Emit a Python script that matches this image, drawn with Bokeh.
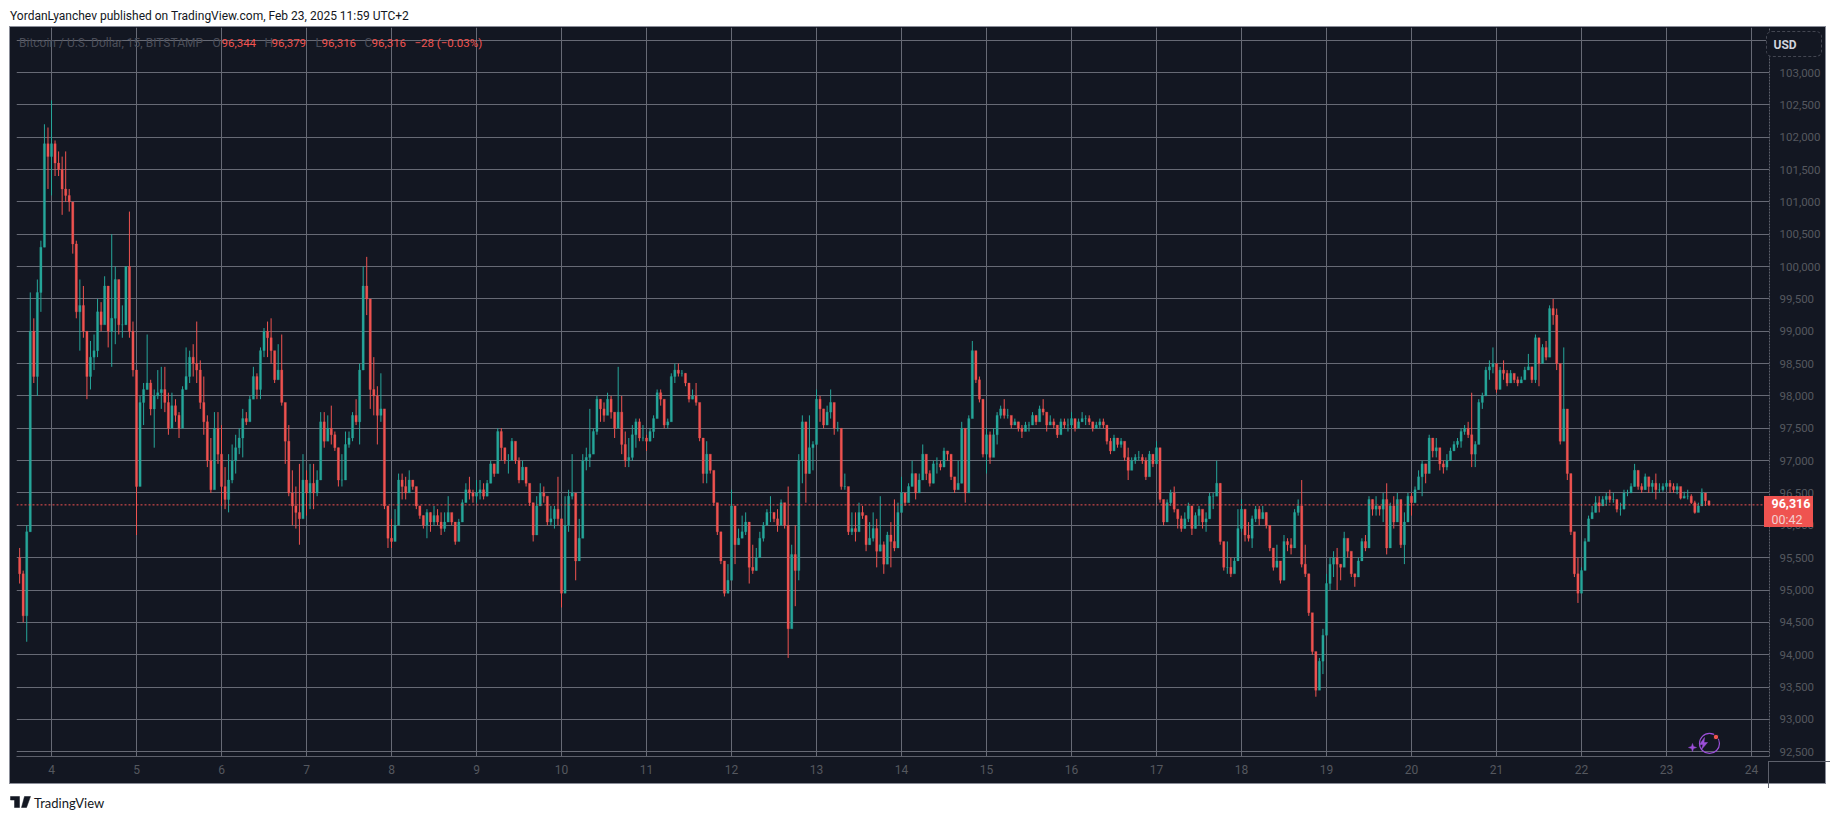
from bokeh.embed import file_html
from bokeh.resources import INLINE
from bokeh.plotting import figure, ColumnDataSource
from bokeh.layouts import column
from bokeh.models import BoxAnnotation, Label, Span, PolyAnnotation, FixedTicker, NumeralTickFormatter, Div

# BTC/USD candles, one per hour: (high, low, close)
feb03 = [(95650,95100,95250),(95300,94500,94600),(96000,94200,95900),(99600,95900,99000),(99200,98200,98300),(99800,98000,99600),(100400,99300,100300),(102200,100300,101900),(102150,101200,101700)]
feb04 = [(102570,101100,101900),(101950,101400,101600),(101780,101400,101500),(101700,100800,101200),(101780,101000,101100),(101200,100850,101000),(100700,100200,100350),(100400,99200,99300),(99800,98700,99400),(99700,98900,99000),(99000,97950,98300),(98850,98100,98600),(98950,98400,98700),(99500,98600,99300),(99450,99000,99100),(99850,99150,99700),(99600,98750,99000),(100500,98450,99200),(100000,98800,99800),(99700,98950,99100),(99400,98900,99100),(100000,99100,100000),(100850,98900,99000),(99150,98300,98400)]
feb05 = [(98300,95850,96600),(98000,96850,97900),(98200,97550,98100),(98950,98100,98200),(98250,97700,97800),(98100,97200,98000),(98400,97950,98050),(98450,97800,98100),(98450,97750,97900),(98050,97400,97500),(98050,97650,97850),(97950,97600,97700),(97750,97350,97500),(98150,97800,98100),(98750,98100,98300),(98700,98200,98600),(98800,98300,98500),(99150,98200,98400),(98550,97800,97900),(98300,97400,97600),(97700,96900,97000),(97350,96500,96550),(97750,96850,97500),(97750,96950,97100)]
feb06 = [(97550,96300,96600),(96900,96250,96400),(97100,96200,96700),(97250,96650,97000),(97400,96800,97200),(97500,97100,97350),(97800,97050,97650),(97750,97550,97600),(98000,97700,97950),(98450,98050,98300),(98350,97950,98100),(98750,97950,98700),(99050,98600,99000),(99150,98600,98900),(99200,98500,98700),(98650,98200,98250),(98800,98300,98400),(98950,97850,97900),(97600,96950,97300),(97550,96450,96500),(96850,96000,96300),(96600,95950,96200),(96950,95700,96100),(97100,96200,96700)]
feb07 = [(96850,96150,96500),(96950,96250,96650),(96950,96250,96500),(96850,96450,96700),(97750,96800,97600),(97750,97200,97300),(97700,97350,97500),(97850,97250,97400),(97450,97150,97200),(97200,96600,96700),(97100,96600,96700),(97450,96850,97250),(97450,97200,97350),(97750,97300,97700),(97950,97550,97600),(98500,97250,98400),(100000,98600,99700),(100150,99250,99500),(99250,97800,98100),(98600,97700,98000),(98150,97250,97700),(98350,97600,97800),(97550,96250,96300),(96300,95650,95800)]
feb08 = [(96100,95650,95750),(96250,95900,96000),(96800,96330,96700),(96800,96400,96600),(96750,96400,96500),(96850,96550,96700),(96700,96550,96600),(96550,96250,96300),(96300,96100,96150),(96150,95950,96000),(96250,95800,96200),(96200,95900,96050),(96300,96000,96150),(96250,96000,96050),(96200,95850,95950),(96200,95900,96050),(96450,96100,96200),(96150,96000,96050),(96000,95700,95750),(96100,95900,96050),(96400,96150,96350),(96650,96400,96550),(96750,96400,96500),(96550,96350,96450)]
feb09 = [(96700,96350,96500),(96700,96400,96550),(96650,96400,96450),(96700,96450,96650),(97000,96650,96950),(96950,96750,96800),(97500,96950,97450),(97500,97000,97200),(97150,96950,97000),(97100,96800,97000),(97350,97100,97300),(97200,96950,97000),(97050,96650,96700),(97000,96800,96900),(96800,96600,96650),(96550,96300,96350),(96250,95750,95850),(96450,96050,96300),(96650,96350,96500),(96600,96350,96450),(96250,96000,96050),(96300,96000,96100),(96300,95950,96250),(96750,96000,96100)]
feb10 = [(96000,94730,94950),(96450,95150,96000),(96550,95900,96450),(97100,96400,96500),(96400,95150,95450),(96100,95750,95800),(97100,96000,97000),(97200,96850,97050),(97800,96900,97100),(97500,97200,97450),(98000,97400,97950),(97950,97600,97800),(97900,97600,97700),(98050,97750,97950),(98000,97650,97750),(97700,97350,97500),(98450,97550,97750),(98000,97100,97250),(97450,96900,97000),(97350,96900,97050),(97550,97000,97400),(97650,97200,97600),(97650,97300,97350),(97550,97300,97350)]
feb11 = [(97400,97150,97300),(97500,97300,97450),(97700,97350,97650),(98100,97800,98050),(98100,97850,97950),(97850,97500,97550),(97650,97500,97600),(98350,97700,98300),(98500,98200,98400),(98500,98300,98350),(98400,98300,98350),(98350,98150,98200),(98150,97900,97950),(98100,97950,98000),(98200,97850,97900),(97850,97300,97350),(97350,96650,96800),(97300,96650,97100),(97050,96800,96850),(96650,96300,96350),(96300,95850,95900),(95700,95400,95450),(95400,94900,94950),(95400,94950,95150)]
feb12 = [(96550,95650,96300),(96100,95400,95700),(95950,95700,95800),(96150,95850,95900),(96200,95850,96050),(96000,95100,95350),(95700,95250,95300),(95650,95300,95500),(95900,95700,95800),(96050,95750,96000),(96250,96000,96200),(96450,96050,96200),(96200,96050,96100),(96250,95900,96000),(96400,96100,96350),(96250,95950,96000),(96600,93950,94400),(95700,94500,95550),(96000,94750,95300),(97100,95150,97000),(97700,96650,97600),(97050,96350,96800),(97700,96800,97200),(97300,96850,97250)]
feb13 = [(98100,97550,97950),(98000,97600,97800),(97800,97500,97550),(97850,97550,97750),(98100,97650,97900),(97850,97400,97500),(97600,97450,97500),(97350,96550,96600),(96800,96550,96600),(96500,95850,95900),(96200,95850,95950),(96200,95750,95900),(96350,96050,96200),(96300,96100,96150),(96150,95600,95700),(96050,95700,95800),(96200,95750,95950),(96100,95350,95600),(96450,95600,95700),(95750,95250,95400),(95900,95500,95850),(96050,95350,95750),(96400,95600,95650),(96350,96050,96200)]
feb14 = [(96750,96300,96500),(96500,96300,96350),(96650,96400,96600),(97000,96650,96800),(96800,96400,96500),(96800,96600,96700),(97250,96800,97100),(97000,96700,96800),(96850,96600,96650),(97000,96650,96950),(97050,96800,96950),(97000,96850,96900),(97200,97000,97150),(97150,97000,97100),(96900,96700,96750),(96700,96500,96550),(97000,96600,96650),(97600,96650,97500),(97400,96350,96500),(97700,96650,97650),(98850,98000,98700),(98550,98200,98250),(98300,97900,97950),(97900,97050,97100)]
feb15 = [(97500,96800,97400),(97450,96950,97050),(97500,97250,97400),(97750,97250,97700),(97850,97650,97800),(97950,97650,97700),(97800,97650,97700),(97650,97500,97550),(97650,97550,97600),(97600,97450,97500),(97550,97350,97450),(97600,97500,97550),(97600,97450,97550),(97750,97550,97700),(97700,97550,97600),(97850,97650,97800),(97950,97700,97750),(97700,97450,97550),(97700,97550,97600),(97650,97500,97550),(97500,97350,97400),(97650,97450,97600),(97650,97500,97550),(97650,97450,97550)]
feb16 = [(97750,97500,97650),(97600,97450,97500),(97650,97550,97600),(97750,97600,97650),(97700,97550,97650),(97700,97550,97600),(97600,97450,97500),(97600,97500,97550),(97650,97500,97600),(97650,97500,97550),(97450,97250,97300),(97350,97100,97150),(97400,97250,97350),(97300,97200,97250),(97350,97200,97300),(97200,97000,97050),(97200,96700,96850),(97050,96900,97000),(97100,96950,97050),(97150,97000,97050),(97100,96950,97000),(97050,96700,96750),(97150,96900,97100),(97050,96900,96950)]
feb17 = [(97300,96950,97200),(97100,96350,96400),(96350,96000,96050),(96400,96100,96350),(96550,96300,96500),(96600,96200,96250),(96150,95950,96100),(96150,95900,95950),(96200,95950,96100),(96350,96050,96300),(96100,95850,95950),(96200,95950,96150),(96300,96000,96250),(96200,95950,96050),(96200,95900,96100),(96500,96100,96450),(96500,96250,96450),(97000,96600,96650),(96650,95700,95750),(95700,95300,95350),(95750,95250,95350),(95500,95200,95250),(95500,95300,95450),(96250,95550,95950)]
feb18 = [(96400,95900,96250),(96000,95750,95850),(96050,95750,95800),(96150,95650,96100),(96300,96050,96250),(96300,96000,96100),(96300,96100,96200),(96200,95950,96000),(95900,95600,95650),(95600,95300,95350),(95700,95350,95450),(95400,95100,95150),(95850,95500,95750),(95800,95600,95700),(95800,95550,95650),(96250,95850,96200),(96400,96150,96300),(96700,95350,95400),(95700,95200,95250),(95250,94600,94650),(94500,94000,94050),(94000,93350,93450),(93950,93500,93900),(94400,93700,94300)]
feb19 = [(95250,94650,95100),(95500,95000,95400),(95600,95200,95500),(95650,95000,95400),(95400,95150,95350),(95900,95450,95800),(95750,95500,95600),(95550,95200,95250),(95250,95050,95200),(95500,95250,95450),(95800,95550,95750),(95850,95600,95650),(96450,95700,96400),(96400,96150,96250),(96450,96150,96300),(96300,96150,96250),(96500,96050,96400),(96650,95550,95650),(96350,95950,96300),(96450,95950,96050),(96500,96150,96400),(96150,95650,95700),(96200,95400,96050),(96500,96150,96450)]
feb20 = [(96500,96150,96350),(96600,96350,96550),(96850,96550,96750),(97000,96450,96950),(96950,96650,96800),(97400,96850,97350),(97300,97050,97150),(97350,97050,97200),(97050,96850,96950),(97000,96800,96900),(97100,96850,97000),(97200,97000,97150),(97300,97150,97250),(97350,97200,97300),(97500,97200,97450),(97550,97400,97500),(97600,97350,97400),(98050,96900,97100),(97300,96900,97250),(97950,97550,97900),(98050,97800,98000),(98450,98100,98400),(98550,98250,98450),(98750,98350,98500)]
feb21 = [(98350,98050,98100),(98450,98150,98400),(98550,98250,98350),(98400,98150,98200),(98400,98200,98350),(98300,98200,98250),(98300,98150,98200),(98300,98200,98250),(98450,98300,98400),(98650,98400,98450),(98350,98200,98250),(98950,98200,98900),(98600,98150,98500),(98800,98500,98750),(98850,98550,98600),(99400,98800,99350),(99500,99100,99250),(99350,98400,98500),(98350,97250,97300),(98750,97750,97800),(97750,96700,96800),(96600,95850,95900),(95850,95200,95250),(95500,94800,94950)]
feb22 = [(95350,94950,95300),(95800,95350,95750),(96150,95800,96100),(96300,96100,96200),(96450,96200,96350),(96450,96200,96300),(96450,96300,96400),(96500,96300,96450),(96550,96350,96400),(96500,96350,96400),(96400,96200,96250),(96350,96150,96250),(96550,96400,96500),(96550,96450,96500),(96650,96550,96600),(96950,96600,96850),(96750,96550,96600),(96650,96500,96550),(96800,96550,96750),(96650,96500,96600),(96700,96500,96650),(96800,96400,96550),(96650,96500,96550),(96650,96520,96600)]
feb23 = [(96700,96550,96650),(96700,96500,96600),(96650,96500,96550),(96650,96480,96600),(96550,96400,96420),(96520,96420,96450),(96550,96400,96450),(96480,96330,96350),(96380,96180,96200),(96350,96250,96300),(96570,96330,96500),(96480,96300,96380),(96380,96300,96316)]

first_open = 95500
last_price = 96316
day_ticks = list(range(4, 25))
price_ticks = list(range(92500, 104000, 500))
title_text = "YordanLyanchev published on TradingView.com, Feb 23, 2025 11:59 UTC+2"

days = [(3, feb03, 15), (4, feb04, 0), (5, feb05, 0), (6, feb06, 0), (7, feb07, 0), (8, feb08, 0), (9, feb09, 0),
        (10, feb10, 0), (11, feb11, 0), (12, feb12, 0), (13, feb13, 0), (14, feb14, 0), (15, feb15, 0), (16, feb16, 0),
        (17, feb17, 0), (18, feb18, 0), (19, feb19, 0), (20, feb20, 0), (21, feb21, 0), (22, feb22, 0), (23, feb23, 0)]

UP, DOWN = "#26a69a", "#ef5350"
BG = "#131722"
xs, highs, lows, opens, closes, colors = [], [], [], [], [], []
prev = first_open
for d, rows, start in days:
    for i, (h, l, c) in enumerate(rows):
        xs.append(d + (start + i) / 24)
        highs.append(h); lows.append(l); opens.append(prev); closes.append(c)
        colors.append(UP if c >= prev else DOWN)
        prev = c
src = ColumnDataSource(dict(x=xs, h=highs, l=lows, o=opens, c=closes, color=colors))


def at(x, y, **extra):
    s = {"position": "absolute", "left": f"{x}px", "top": f"{y}px"}
    s.update(extra)
    return s


def label(f, text, x, y, color, size="12px", font="Roboto", style="normal", align="left"):
    f.add_layout(Label(x=x, y=y, x_units="canvas", y_units="canvas", text=text, text_color=color,
                       text_font_size=size, text_font=font, text_font_style=style,
                       text_align=align, text_baseline="middle"))


def poly(f, pts, color):
    f.add_layout(PolyAnnotation(xs=[q[0] for q in pts], ys=[q[1] for q in pts],
                                xs_units="canvas", ys_units="canvas", fill_color=color, fill_alpha=1,
                                line_color=color, line_alpha=1, line_width=0.5))


def chip(x, y, w, h, tick, pad, text, color, style, size, **css):
    """A small block in the price-axis column: its single text is an axis label, which is never clipped."""
    f = figure(width=w, height=h, output_backend="svg", toolbar_location=None,
               x_range=(0, 1), y_range=(0, h), x_axis_type=None, y_axis_location="right",
               frame_width=1, frame_height=h, min_border_left=pad, min_border_right=w - pad - 1,
               min_border_top=0, min_border_bottom=0,
               background_fill_color=None, border_fill_color=None, outline_line_color=None,
               styles=at(x, y, **css))
    f.grid.visible = False
    a = f.yaxis[0]
    a.ticker = FixedTicker(ticks=[tick])
    a.major_label_overrides = {tick: text}
    a.axis_line_color = None
    a.major_tick_line_color = None
    a.minor_tick_line_color = None
    a.major_tick_out = 0
    a.major_tick_in = 0
    a.major_label_standoff = 0
    a.major_label_text_color = color
    a.major_label_text_font = "Roboto"
    a.major_label_text_font_style = style
    a.major_label_text_font_size = size
    return f


# main chart: frame 10..1763 x 27..756, axes in the rest of the pane
p = figure(width=1815, height=756, output_backend="svg", toolbar_location=None,
           x_range=(3.588, 24.212), y_range=(92426, 103696),
           x_axis_location="below", y_axis_location="right",
           frame_width=1753, frame_height=729,
           min_border_left=0, min_border_top=0, min_border_right=62, min_border_bottom=27,
           border_fill_color=None, background_fill_color=None, outline_line_color=None,
           styles=at(10, 27, background=BG, outline="1px solid #8b8e99"))

GRID = "#676a75"
p.xgrid.ticker = FixedTicker(ticks=day_ticks)
p.ygrid.ticker = FixedTicker(ticks=price_ticks)
p.xgrid.grid_line_color = GRID
p.ygrid.grid_line_color = GRID
p.xgrid.grid_line_width = 1
p.ygrid.grid_line_width = 1

xa = p.xaxis[0]
xa.ticker = FixedTicker(ticks=day_ticks)
xa.axis_line_color = "#5d606b"
xa.major_tick_line_color = None
xa.minor_tick_line_color = None
xa.major_tick_out = 0
xa.major_tick_in = 0
xa.major_label_text_color = "#55585f"
xa.major_label_text_font = "Roboto"
xa.major_label_text_font_size = "12px"
xa.major_label_standoff = 8
xa.major_label_overrides = {t: str(t) for t in day_ticks}

ya = p.yaxis[0]
ya.ticker = FixedTicker(ticks=price_ticks)
ya.formatter = NumeralTickFormatter(format="0,0")
ya.axis_line_color = "#5d606b"
ya.axis_line_dash = "2 1"
ya.major_tick_line_color = None
ya.minor_tick_line_color = None
ya.major_tick_out = 0
ya.major_tick_in = 0
ya.major_label_text_color = "#55585f"
ya.major_label_text_font = "Roboto"
ya.major_label_text_font_size = "11.5px"
ya.major_label_standoff = 10
ya.major_label_overrides = {103500: ""}

# candles
p.segment(x0="x", x1="x", y0="l", y1="h", color="color", line_width=1, source=src)
p.vbar(x="x", width=2.2 / 85, top="o", bottom="c", fill_color="color", line_color="color", line_width=0.3, source=src)

p.add_layout(Span(location=last_price, dimension="width", line_color=DOWN, line_dash="2 2", line_width=1))

# publish-badge circle and dot in chart coordinates
ix = 4 + (1703 - 45) / 85
iy = 103000 - (743 - 72) / 0.06469
p.scatter(x=[ix], y=[iy], size=20, marker="circle", fill_color=None, line_color="#9c4fd9", line_width=1.2)
dx = 4 + (1709.5 - 45) / 85
dy = 103000 - (736.5 - 72) / 0.06469
p.scatter(x=[dx], y=[dy], size=5.5, marker="circle", fill_color=DOWN, line_color=BG, line_width=1)

# overlay layer: texts and details left of the price axis, in page pixels
over = figure(width=1835, height=819, output_backend="svg", toolbar_location=None,
              x_range=(0, 1), y_range=(0, 1), x_axis_type=None, y_axis_type=None,
              min_border=0, background_fill_color=None, border_fill_color=None, outline_line_color=None,
              styles=at(0, 0))
over.grid.visible = False

DIM = "#4b4e59"
label(over, "Bitcoin / U.S. Dollar, 15, BITSTAMP", 18.5, 42, DIM)
for t, x in (("O", 212), ("H", 264), ("L", 315), ("C", 364)):
    label(over, t, x, 42, DIM)
for t, x in (("96,344", 221), ("96,379", 271), ("96,316", 321), ("96,316", 371), ("\u221228 (\u22120.03%)", 414)):
    label(over, t, x, 42, DOWN, size="11.5px")

poly(over, [(1704, 737), (1699, 744), (1702.5, 744), (1701, 749), (1707, 742), (1703.5, 742)], "#9c4fd9")
poly(over, [(1692, 743), (1693, 746), (1696, 747), (1693, 748), (1692, 751), (1691, 748), (1688, 747), (1691, 746)], "#9c4fd9")

label(over, title_text, 9.5, 15, BG, size="12px", font="Roboto")
label(over, "TradingView", 33.5, 802, BG, size="13px", font="Lato")
poly(over, [(10, 796), (19, 796), (19, 807), (14, 807), (14, 799.5), (10, 799.5)], BG)
poly(over, [(24, 796), (30, 796), (26, 807), (21, 807)], BG)

# USD button and last-price tag
usd = chip(1766, 31, 56, 26, 13, 6, "USD", "#d1d4dc", "bold", "12px",
           background=BG, outline="1px dashed #434651", **{"outline-offset": "-1px", "border-radius": "6px"})
tag_top = chip(1764, 496, 49, 15, 8, 5, "96,316", "#ffffff", "bold", "12.5px", background=DOWN)
tag_bot = chip(1764, 511, 49, 16, 9, 5, "00:42", "#f3d0cf", "normal", "12.5px", background=DOWN)

# axis lines running on into the corner of the pane
corner_h = Div(text="", width=62, height=1, styles=at(1763, 756, background="#5d606b"))
corner_v = Div(text="", width=1, height=27, styles=at(1763, 756, background="#5d606b"))

root = column(p, over, usd, tag_top, tag_bot, corner_h, corner_v, width=1835, height=819,
              styles={"position": "relative"})
open("out.html", "w").write(file_html(root, INLINE))
